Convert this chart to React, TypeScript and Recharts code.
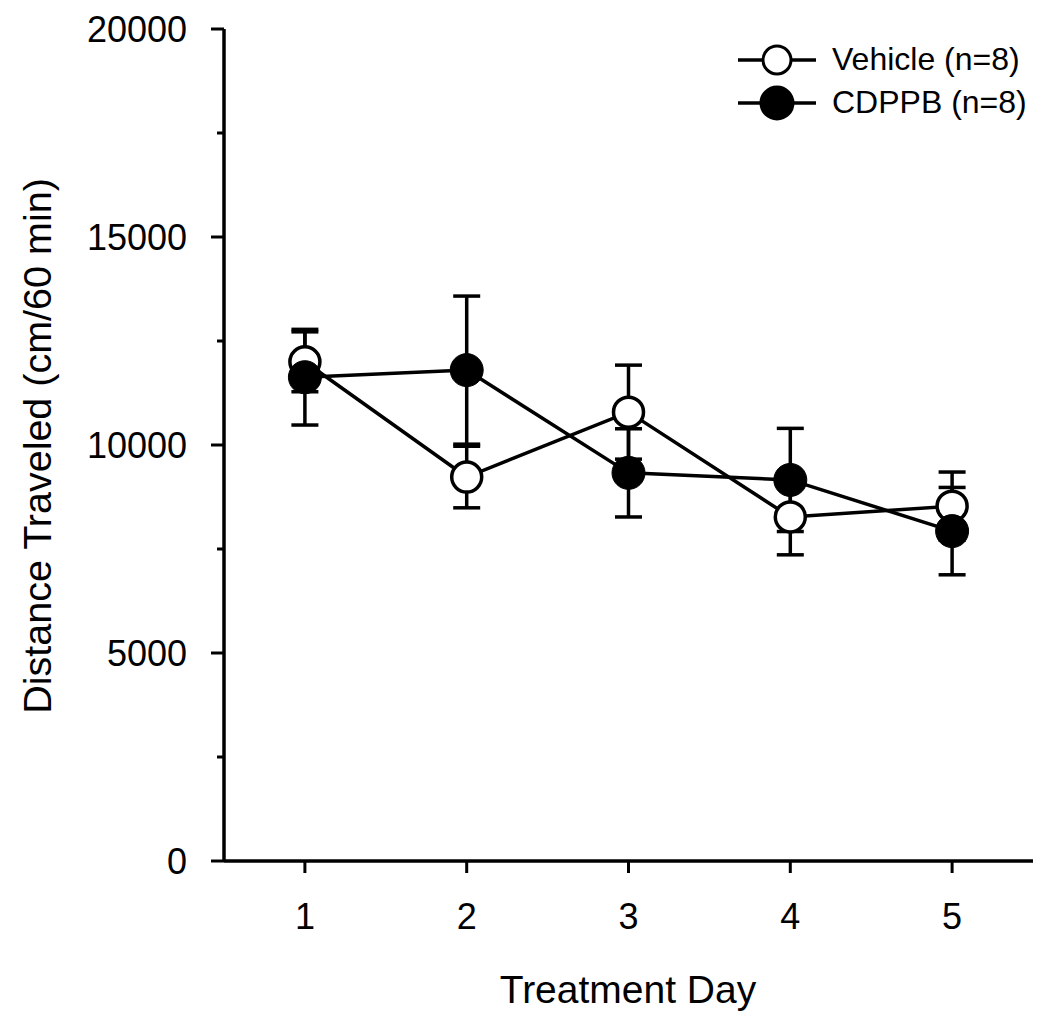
import React from "react";
import { LineChart, Line, XAxis, YAxis, ErrorBar } from "recharts";

const days = [1, 2, 3, 4, 5];
const vehicleMean = [12000, 9230, 10790, 8270, 8530];
const vehicleSem = [720, 740, 1130, 910, 820];
const cdppbMean = [11630, 11800, 9330, 9160, 7930];
const cdppbSem = [1150, 1780, 1060, 1240, 1050];
const yTicks = [0, 2500, 5000, 7500, 10000, 12500, 15000, 17500, 20000];
const xTicks = [1, 2, 3, 4, 5];

const seriesNames = { vehicle: "Vehicle (n=8)", cdppb: "CDPPB (n=8)" };

const data = days.map((d, i) => ({
  day: d,
  vehicle: vehicleMean[i],
  vehicleErr: vehicleSem[i],
  cdppb: cdppbMean[i],
  cdppbErr: cdppbSem[i],
}));

const FONT = "'Liberation Sans', Arial, sans-serif";
const AXIS_X = 224;

const YTick = ({ payload }: any) => {
  const y = payload.coordinate;
  const major = payload.value % 5000 === 0;
  return (
    <g>
      <line x1={AXIS_X - (major ? 13 : 7)} x2={AXIS_X} y1={y} y2={y} stroke="#000" strokeWidth={3} />
      {major && (
        <text x={AXIS_X - 37} y={y} textAnchor="end" dominantBaseline="central" fontSize={36} fontFamily={FONT} fill="#000">
          {payload.value}
        </text>
      )}
    </g>
  );
};

const YTitle = () => (
  <text
    x={37}
    y={446}
    transform="rotate(-90 37 446)"
    textAnchor="middle"
    dominantBaseline="central"
    fontSize={39.5}
    fontFamily={FONT}
    fill="#000"
  >
    Distance Traveled (cm/60 min)
  </text>
);

const XTitle = () => (
  <text x={628} y={1003} textAnchor="middle" fontSize={39} fontFamily={FONT} fill="#000">
    Treatment Day
  </text>
);

const LegendBox = () => {
  const items = [
    { name: seriesNames.vehicle, fill: "#fff", r: 14 },
    { name: seriesNames.cdppb, fill: "#000", r: 16 },
  ];
  return (
    <div style={{ position: "absolute", top: 38, left: 736, fontFamily: FONT, fontSize: 32, color: "#000" }}>
      {items.map((it) => (
        <div key={it.name} style={{ display: "flex", alignItems: "center", height: 43 }}>
          <svg width={84} height={40} style={{ marginRight: 12 }}>
            <line x1={2} x2={80} y1={20} y2={20} stroke="#000" strokeWidth={3.5} />
            <circle cx={41} cy={20} r={it.r} fill={it.fill} stroke="#000" strokeWidth={3} />
          </svg>
          <span>{it.name}</span>
        </div>
      ))}
    </div>
  );
};

export default function App() {
  return (
    <div style={{ position: "absolute", left: 0, top: 0, width: 1050, height: 1021, background: "#fff" }}>
      <LineChart width={1050} height={1021} data={data} margin={{ top: 29, right: 17, left: 0, bottom: 0 }}>
        <XAxis
          dataKey="day"
          type="number"
          domain={[0.5, 5.5]}
          ticks={xTicks}
          height={160}
          axisLine={{ stroke: "#000", strokeWidth: 3.5 }}
          tickLine={{ stroke: "#000", strokeWidth: 3 }}
          tickSize={12}
          tickMargin={30}
          tick={{ fill: "#000", fontSize: 36, fontFamily: FONT }}
          label={<XTitle />}
        />
        <YAxis
          type="number"
          domain={[0, 20000]}
          ticks={yTicks}
          width={AXIS_X}
          axisLine={{ stroke: "#000", strokeWidth: 3.5 }}
          tickLine={false}
          tick={<YTick />}
          interval={0}
          label={<YTitle />}
        />
        <Line
          dataKey="vehicle"
          name={seriesNames.vehicle}
          stroke="#000"
          strokeWidth={3.5}
          dot={{ r: 15, fill: "#fff", stroke: "#000", strokeWidth: 3.5 }}
          isAnimationActive={false}
        >
          <ErrorBar dataKey="vehicleErr" width={13.5} stroke="#000" strokeWidth={3.5} direction="y" />
        </Line>
        <Line
          dataKey="cdppb"
          name={seriesNames.cdppb}
          stroke="#000"
          strokeWidth={3.5}
          dot={{ r: 16.5, fill: "#000", stroke: "#000", strokeWidth: 1 }}
          isAnimationActive={false}
        >
          <ErrorBar dataKey="cdppbErr" width={13.5} stroke="#000" strokeWidth={3.5} direction="y" />
        </Line>
      </LineChart>
      <LegendBox />
    </div>
  );
}
